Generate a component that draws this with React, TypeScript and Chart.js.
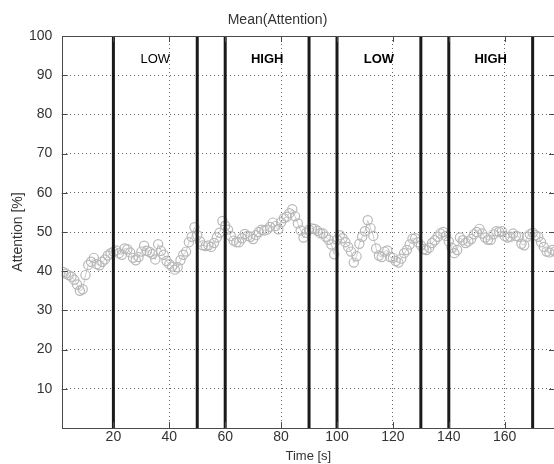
import { useEffect, useRef } from "react";
import { Chart, registerables } from "chart.js";

Chart.register(...registerables);

const chartTitle = "Mean(Attention)";
const xTitle = "Time [s]";
const yTitle = "Attention [%]";

const times = [
  2, 3, 4, 5, 6, 7, 8, 9, 10, 11, 12, 13, 14, 15, 16, 17, 18, 19, 20, 21,
  22, 23, 24, 25, 26, 27, 28, 29, 30, 31, 32, 33, 34, 35, 36, 37, 38, 39, 40, 41,
  42, 43, 44, 45, 46, 47, 48, 49, 50, 51, 52, 53, 54, 55, 56, 57, 58, 59, 60, 61,
  62, 63, 64, 65, 66, 67, 68, 69, 70, 71, 72, 73, 74, 75, 76, 77, 78, 79, 80, 81,
  82, 83, 84, 85, 86, 87, 88, 89, 90, 91, 92, 93, 94, 95, 96, 97, 98, 99, 100, 101,
  102, 103, 104, 105, 106, 107, 108, 109, 110, 111, 112, 113, 114, 115, 116, 117, 118, 119, 120, 121,
  122, 123, 124, 125, 126, 127, 128, 129, 130, 131, 132, 133, 134, 135, 136, 137, 138, 139, 140, 141,
  142, 143, 144, 145, 146, 147, 148, 149, 150, 151, 152, 153, 154, 155, 156, 157, 158, 159, 160, 161,
  162, 163, 164, 165, 166, 167, 168, 169, 170, 171, 172, 173, 174, 175, 176, 177, 178,
];

const attention = [
  39.8, 39.4, 39.0, 38.6, 37.8, 36.6, 35.0, 35.4, 39.0, 41.6, 42.4, 43.4, 41.8, 41.5, 42.4, 43.0, 44.0, 44.6, 45.0, 45.3,
  44.6, 44.2, 45.8, 45.6, 44.8, 43.4, 42.8, 43.6, 45.0, 46.5, 45.2, 44.9, 44.4, 43.0, 46.9, 45.2, 44.2, 42.6, 41.8, 41.2,
  40.4, 41.0, 42.8, 44.2, 45.0, 47.4, 48.8, 51.2, 49.2, 47.6, 46.6, 46.4, 46.6, 46.2, 47.2, 48.6, 49.8, 52.8, 51.6, 50.6,
  49.0, 47.8, 47.4, 47.4, 48.4, 49.5, 49.0, 48.8, 48.2, 49.2, 50.0, 50.6, 50.4, 50.6, 51.3, 52.4, 51.5, 50.7, 52.5, 53.5,
  53.9, 54.8, 55.8, 54.0, 52.2, 50.4, 48.6, 49.8, 50.6, 50.9, 50.8, 50.3, 49.7, 49.6, 48.8, 48.0, 46.8, 44.3, 48.0, 49.2,
  48.4, 47.4, 46.2, 45.0, 42.2, 43.8, 47.0, 48.8, 50.2, 53.0, 51.0, 49.0, 45.8, 44.0, 43.6, 45.0, 45.3, 43.6, 43.4, 42.6,
  42.2, 43.2, 44.6, 45.4, 46.8, 48.3, 48.4, 47.4, 46.6, 45.6, 45.4, 46.0, 47.2, 47.9, 48.8, 49.6, 50.0, 49.0, 47.6, 46.0,
  44.6, 45.4, 48.6, 47.9, 47.2, 47.6, 48.2, 49.4, 50.0, 50.8, 49.6, 48.6, 48.0, 48.0, 49.4, 50.2, 50.0, 50.2, 49.0, 48.6,
  48.8, 49.6, 49.0, 48.8, 47.0, 46.6, 48.8, 49.4, 49.8, 49.2, 48.8, 47.4, 46.2, 45.0, 44.8, 45.4, 45.0,
];

const phaseBoundaries = [20, 50, 60, 90, 100, 130, 140, 170];
const phaseLabels = ["LOW", "HIGH", "LOW", "HIGH"];
const phaseLabelCenters = [35, 75, 115, 155];
const phaseLabelBold = [false, true, true, true];
const phaseLabelLevel = 94;

const xTicks = [20, 40, 60, 80, 100, 120, 140, 160];
const yTicks = [10, 20, 30, 40, 50, 60, 70, 80, 90, 100];
const xMin = 1.5;
const xMax = 178;
const yMin = 0;
const yMax = 100;

const FONT = "'Liberation Sans', Arial, sans-serif";

const matlabFrame = {
  id: "matlabFrame",
  afterDatasetsDraw(chart: any) {
    const { ctx, chartArea, scales } = chart;
    const xs = scales.x;
    const ys = scales.y;
    ctx.save();
    ctx.fillStyle = "#000";
    ctx.textAlign = "center";
    ctx.textBaseline = "middle";
    phaseLabels.forEach((lab, i) => {
      ctx.font = `${phaseLabelBold[i] ? "bold " : ""}13px ${FONT}`;
      ctx.fillText(lab, xs.getPixelForValue(phaseLabelCenters[i]), ys.getPixelForValue(phaseLabelLevel));
    });
    ctx.strokeStyle = "#4a4a4a";
    ctx.lineWidth = 1;
    ctx.strokeRect(
      Math.round(chartArea.left) + 0.5,
      Math.round(chartArea.top) + 0.5,
      chartArea.right - chartArea.left,
      chartArea.bottom - chartArea.top
    );
    const tl = 6;
    ctx.beginPath();
    yTicks.forEach((v) => {
      if (v >= yMax) return;
      const y = Math.round(ys.getPixelForValue(v)) + 0.5;
      ctx.moveTo(chartArea.left, y);
      ctx.lineTo(chartArea.left + tl, y);
      ctx.moveTo(chartArea.right, y);
      ctx.lineTo(chartArea.right - tl, y);
    });
    xTicks.forEach((v) => {
      const x = Math.round(xs.getPixelForValue(v)) + 0.5;
      ctx.moveTo(x, chartArea.bottom);
      ctx.lineTo(x, chartArea.bottom - tl);
      ctx.moveTo(x, chartArea.top);
      ctx.lineTo(x, chartArea.top + tl);
    });
    ctx.stroke();
    ctx.restore();
  },
};

export default function App() {
  const ref = useRef<HTMLCanvasElement | null>(null);

  useEffect(() => {
    if (!ref.current) return;
    const seriesData = times.map((t, i) => ({ x: t, y: attention[i] }));
    const boundarySets = phaseBoundaries.map((b) => ({
      type: "line" as const,
      data: [
        { x: b, y: yMin },
        { x: b, y: yMax },
      ],
      borderColor: "#1a1a1a",
      borderWidth: 3,
      pointRadius: 0,
      order: 0,
    }));
    const chart = new Chart(ref.current, {
      type: "line",
      data: {
        datasets: [
          ...boundarySets,
          {
            type: "line" as const,
            data: seriesData,
            borderColor: "#cccccc",
            borderWidth: 1,
            pointRadius: 4.6,
            pointBorderColor: "#b8b8b8",
            pointBackgroundColor: "rgba(255,255,255,0)",
            pointBorderWidth: 1.2,
            order: 1,
          },
        ],
      },
      options: {
        animation: false,
        responsive: false,
        devicePixelRatio: 1,
        layout: { padding: { left: 0, right: 15, top: 0, bottom: 0 } },
        plugins: {
          legend: { display: false },
          tooltip: { enabled: false },
          title: {
            display: true,
            text: chartTitle,
            color: "#333",
            font: { family: FONT, size: 14, weight: "normal" },
            padding: { top: 11.6, bottom: 7.6 },
          },
        },
        scales: {
          x: {
            type: "linear",
            min: xMin,
            max: xMax,
            afterBuildTicks: (s: any) => {
              s.ticks = xTicks.map((v) => ({ value: v }));
            },
            afterFit: (s: any) => {
              s.height = 36;
            },
            grid: { color: "#666", lineWidth: 1, drawTicks: false },
            border: { display: false, dash: [1, 3] },
            ticks: {
              color: "#333",
              font: { family: FONT, size: 14 },
              padding: 1,
              maxRotation: 0,
              autoSkip: false,
            },
            title: {
              display: true,
              text: xTitle,
              color: "#333",
              font: { family: FONT, size: 13 },
              padding: { top: 0, bottom: 0 },
            },
          },
          y: {
            type: "linear",
            min: yMin,
            max: yMax,
            afterBuildTicks: (s: any) => {
              s.ticks = yTicks.map((v) => ({ value: v }));
            },
            afterFit: (s: any) => {
              s.width = 61.7;
            },
            grid: { color: "#666", lineWidth: 1, drawTicks: false },
            border: { display: false, dash: [1, 3] },
            ticks: {
              color: "#333",
              font: { family: FONT, size: 14 },
              padding: 9.4,
              autoSkip: false,
            },
            title: {
              display: true,
              text: yTitle,
              color: "#333",
              font: { family: FONT, size: 14 },
              padding: { top: 9.9, bottom: 0 },
            },
          },
        },
      },
      plugins: [matlabFrame],
    });
    return () => chart.destroy();
  }, []);

  return (
    <div
      style={{
        position: "fixed",
        left: 0,
        top: 0,
        width: 554,
        height: 464,
        overflow: "hidden",
        background: "#fff",
      }}
    >
      <canvas ref={ref} width={570} height={464} style={{ display: "block" }} />
    </div>
  );
}
